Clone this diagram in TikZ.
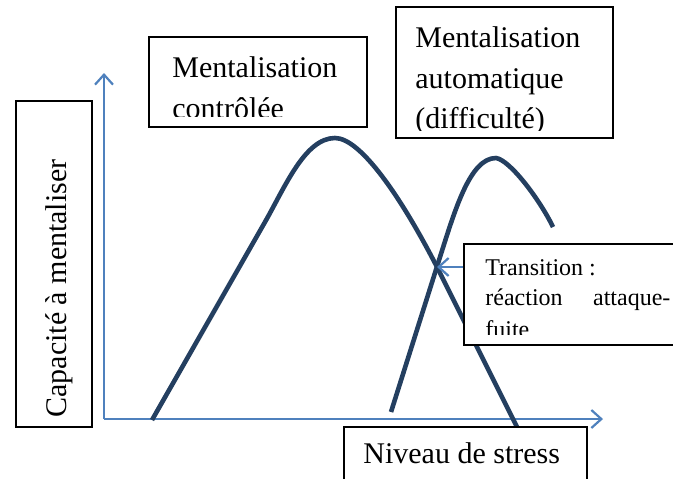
\documentclass[tikz,border=0pt]{standalone}
\usepackage{fontspec}
\setmainfont{Liberation Serif}
\usetikzlibrary{arrows.meta}
\definecolor{courbebleu}{HTML}{243F60}
\definecolor{axebleu}{HTML}{4F81BD}
\tikzset{
  axe/.style={axebleu,line width=1.1pt,-{Straight Barb[length=5pt,width=9pt,line width=1.1pt]}},
  courbe/.style={courbebleu,line width=2.3pt,line cap=butt},
  boite/.style={draw=black,fill=white,line width=0.6pt,inner sep=0pt},
  grand/.style={font=\fontsize{15}{19}\selectfont,inner sep=0pt,anchor=base west},
  petit/.style={font=\fontsize{12}{15}\selectfont,inner sep=0pt,anchor=base west}
}
\begin{document}
\begin{tikzpicture}[x=0.5pt,y=-0.5pt]
\clip (0,0) rectangle (673,478);
\path (104,419) coordinate (O) (104,73) coordinate (ytip) (603,419) coordinate (xtip)
(437,267) coordinate (cross);
\draw[axe] (O)--(ytip);
\draw[axe] (O)--(xtip);
% courbes
\draw[courbe] (152,420)--(265,222) .. controls (285,187) and (305,138) .. (335,138)
.. controls (360,138) and (400,195) .. (cross)--(517,427);
\draw[courbe] (391,412)--(440,257) .. controls (455,210) and (470,158) .. (496,158)
.. controls (510,160) and (540,200) .. (553,227);
% boites
\node[boite,minimum width=38pt,minimum height=163pt] (capa) at (54,264) {};
\node[boite,minimum width=109pt,minimum height=45pt] (ctrl) at (258,82) {};
\node[boite,minimum width=108.5pt,minimum height=65.5pt] (auto) at (504.5,72.5) {};
\node[boite,minimum width=118pt,minimum height=50.5pt] (trans) at (582,294.5) {};
\node[boite,minimum width=121.5pt,minimum height=36.5pt] (stress) at (465.5,463.5) {};
\node[grand,rotate=90] (capa-t) at (66,418) {Capacité à mentaliser};
\begin{scope}
\clip (149,37) rectangle (367,116);
\node[grand] (ctrl-a) at (172,77) {Mentalisation};
\node[grand] (ctrl-b) at (172,118) {contrôlée};
\end{scope}
\begin{scope}
\clip (396,7) rectangle (613,130);
\node[grand] (auto-a) at (415,47) {Mentalisation};
\node[grand] (auto-b) at (415,88) {automatique};
\node[grand] (auto-c) at (415,128) {(difficulté)};
\end{scope}
\begin{scope}
\clip (464,244) rectangle (673,334);
\node[petit] (trans-a) at (485,275) {Transition :};
\node[petit] (trans-b) at (485,305) {\makebox[92.5pt][l]{réaction\hfill attaque-}};
\node[petit] (trans-c) at (485,337) {fuite};
\end{scope}
\node[grand] (stress-t) at (363,463) {Niveau de stress};
\draw[axe] (trans.west |- cross)--(cross);
\end{tikzpicture}
\end{document}
